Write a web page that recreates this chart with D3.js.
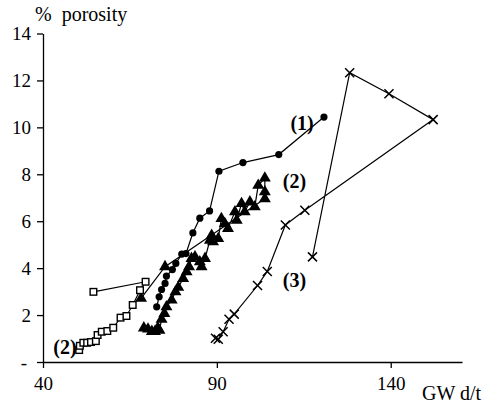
<!DOCTYPE html>
<html>
<head>
<meta charset="utf-8">
<script src="https://cdn.jsdelivr.net/npm/d3@7"></script>
<style>
  body { margin: 0; background: #fff; }
  svg text { font-family: "Liberation Serif", "Times New Roman", serif; fill: #000; }
  .axis path, .axis line { stroke: #000; stroke-width: 1.3px; }
</style>
</head>
<body>
<div id="chart"></div>
<script>
'use strict';

// series (1): filled circles
var circleX = [72.7, 73.4, 74.1, 75.1, 75.5, 77.2, 78.2, 79.9, 81.1, 83.1, 85.1, 87.9, 90.6, 97.5, 107.8, 120.8];
var circleY = [2.35, 2.78, 3.09, 3.35, 3.66, 3.94, 4.2, 4.6, 4.62, 5.5, 6.13, 6.44, 8.13, 8.5, 8.84, 10.44];

// series (2), lower group: open squares
var squareX = [50.4, 50.6, 51.6, 52.7, 53.8, 55.2, 55.7, 56.9, 58.5, 60.2, 62.3, 64.0, 65.8, 67.9, 69.5, 54.5];
var squareY = [0.51, 0.69, 0.82, 0.82, 0.85, 0.89, 1.15, 1.29, 1.32, 1.46, 1.89, 1.96, 2.43, 3.06, 3.42, 2.99];

// series (2), upper group: filled triangles
var triX = [69.0, 70.2, 71.3, 72.2, 73.0, 73.5, 74.1, 74.9, 75.5, 77.0, 78.1, 78.9, 80.3, 81.3, 82.0, 82.7, 83.7,
            85.1, 85.6, 86.6, 88.0, 88.5, 88.9, 90.4, 91.3, 92.3, 93.2, 95.2, 95.7, 97.1, 98.0, 99.5, 100.9,
            101.9, 103.8, 103.8, 103.8, 75.1, 68.2];
var triY = [1.45, 1.4, 1.3, 1.3, 1.45, 1.35, 1.82, 2.07, 2.35, 2.64, 2.99, 3.18, 3.56, 3.84, 4.06, 4.41, 4.48,
            4.27, 4.06, 4.41, 5.19, 5.4, 5.12, 5.26, 6.11, 5.9, 5.69, 6.4, 6.04, 6.75, 6.4, 6.82, 6.61,
            7.53, 7.84, 7.25, 6.96, 4.06, 2.71];

// series (3): crosses
var crossX = [89.6, 90.4, 91.8, 93.5, 95.0, 101.7, 104.5, 109.7, 115.3, 152.2, 139.5, 128.2, 117.5];
var crossY = [1.01, 0.97, 1.29, 1.82, 2.04, 3.26, 3.86, 5.84, 6.47, 10.33, 11.43, 12.33, 4.48];

var xTicks = [40, 90, 140];
var yTicks = [0, 2, 4, 6, 8, 10, 12, 14];

var labels = [
  {text: '(1)', x: 114.5, y: 10.2},
  {text: '(2)', x: 112.3, y: 7.7},
  {text: '(3)', x: 112.3, y: 3.5},
  {text: '(2)', x: 46.3, y: 0.65}
];

var width = 486, height = 404;

var x = d3.scaleLinear().domain([40, 160.5]).range([43, 462]);
var y = d3.scaleLinear().domain([0, 14]).range([362, 33.5]);

var svg = d3.select('#chart').append('svg')
  .attr('width', width)
  .attr('height', height);

function zip(xs, ys) {
  return xs.map(function(v, i) { return {x: v, y: ys[i]}; });
}

var line = d3.line()
  .x(function(d) { return x(d.x); })
  .y(function(d) { return y(d.y); });

// axes
var yAxis = svg.append('g')
  .attr('class', 'axis')
  .attr('transform', 'translate(43,0)')
  .call(d3.axisLeft(y).tickValues(yTicks).tickSize(6).tickSizeOuter(0)
    .tickFormat(function(d) { return d === 0 ? '-' : d; }));
yAxis.selectAll('text')
  .attr('x', -12)
  .attr('dy', '0.34em')
  .style('font-size', '19px')
  .style('font-family', '"Liberation Serif", serif');
yAxis.selectAll('.tick').filter(function(d) { return d === 0; }).select('text').attr('x', -16);

var xAxis = svg.append('g')
  .attr('class', 'axis')
  .attr('transform', 'translate(0,362)')
  .call(d3.axisBottom(x).tickValues(xTicks).tickSize(6).tickSizeOuter(0));
xAxis.selectAll('text')
  .attr('y', 15)
  .attr('dy', '0.71em')
  .style('font-size', '19px')
  .style('font-family', '"Liberation Serif", serif');

svg.append('text')
  .attr('x', 35).attr('y', 21)
  .style('font-size', '20px')
  .style('white-space', 'pre')
  .text('%  porosity');

svg.append('text')
  .attr('x', 422).attr('y', 400)
  .style('font-size', '20px')
  .text('GW d/t');

// lines
[zip(circleX, circleY), zip(squareX, squareY), zip(triX, triY), zip(crossX, crossY)].forEach(function(data) {
  svg.append('path')
    .datum(data)
    .attr('fill', 'none')
    .attr('stroke', '#000')
    .attr('stroke-width', 1.2)
    .attr('d', line);
});

// markers
svg.append('g').selectAll('circle')
  .data(zip(circleX, circleY))
  .join('circle')
  .attr('cx', function(d) { return x(d.x); })
  .attr('cy', function(d) { return y(d.y); })
  .attr('r', 3.6)
  .attr('fill', '#000');

var tri = d3.symbol().type(d3.symbolTriangle).size(62);
svg.append('g').selectAll('path')
  .data(zip(triX, triY))
  .join('path')
  .attr('transform', function(d) { return 'translate(' + x(d.x) + ',' + y(d.y) + ')'; })
  .attr('d', tri)
  .attr('fill', '#000');

svg.append('g').selectAll('rect')
  .data(zip(squareX, squareY))
  .join('rect')
  .attr('x', function(d) { return x(d.x) - 3.3; })
  .attr('y', function(d) { return y(d.y) - 3.3; })
  .attr('width', 6.6)
  .attr('height', 6.6)
  .attr('fill', '#fff')
  .attr('stroke', '#000')
  .attr('stroke-width', 1.4);

var cross = d3.symbol().type(d3.symbolX).size(55);
svg.append('g').selectAll('path')
  .data(zip(crossX, crossY))
  .join('path')
  .attr('transform', function(d) { return 'translate(' + x(d.x) + ',' + y(d.y) + ')'; })
  .attr('d', cross)
  .attr('fill', 'none')
  .attr('stroke', '#000')
  .attr('stroke-width', 1.5);

// series labels
svg.append('g').selectAll('text')
  .data(labels)
  .join('text')
  .attr('x', function(d) { return x(d.x); })
  .attr('y', function(d) { return y(d.y); })
  .attr('text-anchor', 'middle')
  .attr('dy', '0.35em')
  .style('font-size', '20px')
  .style('font-weight', 'bold')
  .text(function(d) { return d.text; });
</script>
</body>
</html>
